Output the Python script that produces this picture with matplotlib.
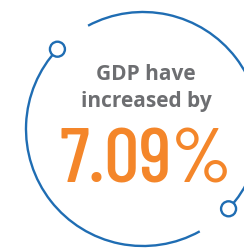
import matplotlib
matplotlib.use("Agg")
import matplotlib.pyplot as plt
from matplotlib.patches import Arc, Circle
import numpy as np

# content
label_lines = ["GDP have", "increased by"]
growth_value = 7.09
# arc segments (degrees) and node angles of the ring
arc_segments = [(-43, 118), (137, 299)]
node_angles = [137, -43]

blue = "#1f6db3"
grey = "#6d6e71"
orange = "#f4862a"

fig = plt.figure(figsize=(2.44, 2.48), dpi=100)
ax = fig.add_axes([0, 0, 1, 1])
ax.set_xlim(0, 244)
ax.set_ylim(0, 248)
ax.set_aspect("equal")
ax.axis("off")

cx, cy, r = 143, 119, 117

for t1, t2 in arc_segments:
    ax.add_patch(Arc((cx, cy), 2 * r, 2 * r, theta1=t1, theta2=t2,
                     color=blue, lw=1.7))

for a in node_angles:
    x = cx + r * np.cos(np.radians(a))
    y = cy + r * np.sin(np.radians(a))
    ax.add_patch(Circle((x, y), 7.5, facecolor="white", edgecolor=blue,
                        lw=1.7, zorder=3))

ax.text(146, 174, label_lines[0], ha="center", va="center", color=grey,
        fontsize=15, fontweight="bold", family="Open Sans")
ax.text(146, 147, label_lines[1], ha="center", va="center", color=grey,
        fontsize=15, fontweight="bold", family="Open Sans")
ax.text(146, 85, f"{growth_value:.2f}%", ha="center", va="center",
        color=orange, fontsize=56, fontweight=500,
        family=["Barlow Condensed", "DejaVu Sans"])

fig.savefig("out.png", dpi=100)
